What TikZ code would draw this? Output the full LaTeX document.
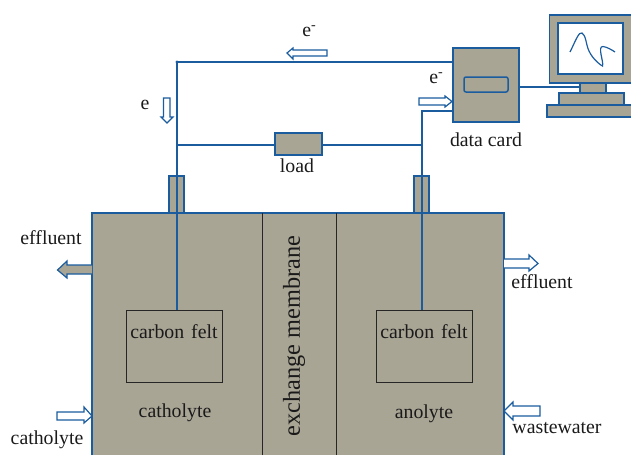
\documentclass[tikz,border=0pt]{standalone}
\usepackage{fontspec}
\setmainfont{Liberation Serif}
\definecolor{cellgray}{HTML}{A9A595}
\definecolor{wireblue}{HTML}{1A5C9E}
\definecolor{inktext}{HTML}{1A1A1A}
\newcommand{\eminus}{e\raisebox{7pt}{\fontsize{14}{14}\selectfont -}}
\tikzset{
  wire/.style={draw=wireblue,line width=1.5pt},
  graybox/.style={draw=wireblue,fill=cellgray,line width=1.5pt,rectangle,inner sep=0pt,outer sep=0pt},
  feltbox/.style={draw=black!85,line width=1pt,rectangle,inner sep=0pt,outer sep=0pt,minimum width=96pt,minimum height=72pt},
  lbl/.style={font=\fontsize{19.8}{22}\selectfont,text=inktext,inner sep=0pt},
  hollow/.style={draw=wireblue,fill=white,line width=1.2pt,line join=miter},
  solidarrow/.style={draw=wireblue,fill=cellgray,line width=1.2pt,line join=miter}
}
\begin{document}
\begin{tikzpicture}[x=1pt,y=-1pt]
\useasboundingbox (0,0) rectangle (631,455);
% cell
\fill[cellgray] (92,213) rectangle (504,455);
\draw[wire] (92,455) -- (92,213) -- (504,213) -- (504,455);
\draw[draw=black!85,line width=1pt] (262,455) -- (262,213) (336,213) -- (336,455);
% stubs
\node[graybox,minimum width=15pt,minimum height=37pt] (stubL) at (176.5,194.5) {};
\node[graybox,minimum width=15pt,minimum height=37pt] (stubR) at (421.5,194.5) {};
% felts
\node[feltbox] (feltL) at (174,346) {};
\node[feltbox] (feltR) at (424,346) {};
% coordinates
\coordinate (topL) at (177,62);
\coordinate (feltLtop) at (177,310);
\coordinate (feltRtop) at (422,310);
\coordinate (cornerR) at (422,111);
\coordinate (midL) at (177,145);
\coordinate (midR) at (422,145);
% card and load
\node[graybox,minimum width=66pt,minimum height=74pt] (card) at (486,85) {};
\node[graybox,rounded corners=2pt,minimum width=44pt,minimum height=15pt] (slot) at (486,84.5) {};
\node[graybox,minimum width=47pt,minimum height=22pt] (loadbox) at (298.5,144) {};
% wires
\draw[wire] (topL) -- (feltLtop);
\draw[wire] (topL) -- (topL -| card.west);
\draw[wire] (feltRtop) -- (cornerR) -- (cornerR -| card.west);
\draw[wire] (midL) -- (midL -| loadbox.west);
\draw[wire] (loadbox.east |- midR) -- (midR);
\fill[wireblue] (topL) circle (1.6pt);
% monitor
\filldraw[wire,fill=cellgray] (631,15) -- (549.5,15) -- (549.5,83) -- (631,83);
\node[graybox,fill=white,minimum width=65pt,minimum height=51pt] (screen) at (590.5,48.5) {};
\node[graybox,minimum width=26pt,minimum height=10pt] (neck) at (593,88) {};
\node[graybox,minimum width=65pt,minimum height=12pt] (stand) at (591.5,99) {};
\filldraw[wire,fill=cellgray] (631,105) -- (547,105) -- (547,117) -- (631,117);
\draw[wire] (card.east |- 0,87) -- (neck.west |- 0,87);
\draw[draw=wireblue,line width=1.2pt] (570,52) .. controls (575,42) and (579,31) .. (582,33)
  .. controls (586,35) and (586,45) .. (589,51) .. controls (593,60) and (602,66) .. (602.5,66)
  .. controls (604,62) and (597,46) .. (603,46.5) .. controls (607,47) and (612,50) .. (615,52);
% block arrows
\draw[hollow] (327,50) -- (293,50) -- (293,48) -- (287,53) -- (293,59) -- (293,56) -- (327,56) -- cycle;
\draw[hollow] (163.5,98) -- (163.5,117) -- (161,117) -- (167,123) -- (173,117) -- (170,117) -- (170,98) -- cycle;
\draw[hollow] (419,98) -- (445,98) -- (445,96) -- (452,101.5) -- (445,107) -- (445,105) -- (419,105) -- cycle;
\draw[solidarrow] (92,265) -- (67,265) -- (67,261) -- (57.5,270) -- (67,278) -- (67,274) -- (92,274);
\draw[hollow] (57,412) -- (84,412) -- (84,407) -- (92,416) -- (84,423) -- (84,420) -- (57,420) -- cycle;
\draw[hollow] (504,259) -- (529,259) -- (529,255) -- (538,263.5) -- (529,271) -- (529,268) -- (504,268);
\draw[hollow] (540,406) -- (513,406) -- (513,402) -- (504,411) -- (513,420) -- (513,416) -- (540,416) -- cycle;
% labels
\node[lbl] (e1) at (309,31) {\eminus};
\node[lbl] (e2) at (436,78) {\eminus};
\node[lbl] (e3) at (145,105) {e};
\node[lbl] (loadlbl) at (297,166) {load};
\node[lbl] (cardlbl) at (486,140) {data card};
\node[lbl] (effL) at (51,238) {effluent};
\node[lbl] (cathL) at (47,440) {catholyte};
\node[lbl] (feltLlbl) at (174,332) {carbon\hspace{2pt} felt};
\node[lbl] (feltRlbl) at (424,332) {carbon\hspace{2pt} felt};
\node[lbl] (cathI) at (175,413) {catholyte};
\node[lbl] (anoI) at (424,414) {anolyte};
\node[lbl] (effR) at (542,282) {effluent};
\node[lbl] (wasteR) at (557,428) {wastewater};
\node[lbl,font=\fontsize{24.3}{26}\selectfont,rotate=90] (membrane) at (294,336) {exchange membrane};
\end{tikzpicture}
\end{document}
